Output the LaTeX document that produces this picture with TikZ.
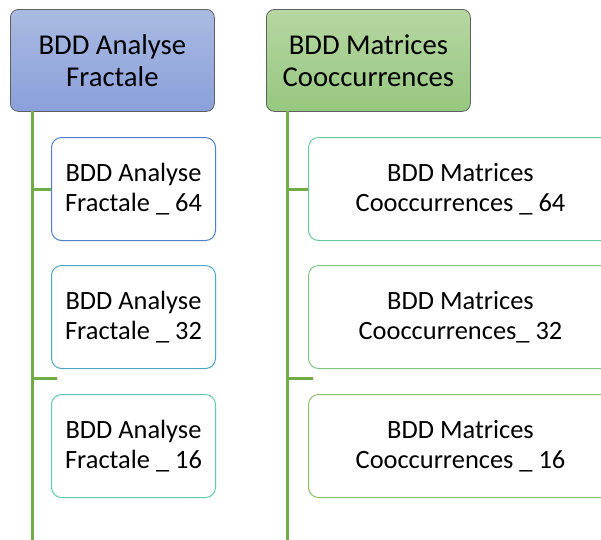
\documentclass[tikz,border=0pt]{standalone}
\usepackage{fontspec}
\setmainfont{Carlito}
\definecolor{spine}{HTML}{70AD47}
\definecolor{topborder}{HTML}{5F5F5F}
\definecolor{lb1}{HTML}{4E7FCB}
\definecolor{lb2}{HTML}{4CA7C4}
\definecolor{lb3}{HTML}{5EC8B2}
\definecolor{rb1}{HTML}{6DC89C}
\definecolor{rb2}{HTML}{7CC784}
\definecolor{rb3}{HTML}{8BC066}
\tikzset{
  topbox/.style={draw=topborder, line width=0.8pt, rounded corners=8pt, anchor=north west,
    minimum width=204pt, minimum height=102pt, align=center, inner sep=0pt,
    font=\fontsize{28.7}{32}\selectfont},
  childbox/.style={draw, line width=1pt, rounded corners=10pt, anchor=north west, fill=white,
    minimum height=103pt, align=center, inner sep=0pt,
    font=\fontsize{26.4}{30}\selectfont,
    execute at begin node={\rule{0pt}{24pt}}},
  conn/.style={draw=spine, line width=3pt}
}
\begin{document}
\begin{tikzpicture}[x=1pt,y=1pt]
\clip (0,0) rectangle (601,-539);
\fill[white] (0,0) rectangle (601,-539);
% top boxes
\node[topbox, top color={rgb,255:red,170;green,186;blue,226}, bottom color={rgb,255:red,138;green,160;blue,218}] (tl) at (10,-9) {BDD Analyse\\Fractale};
\node[topbox, top color={rgb,255:red,182;green,215;blue,162}, bottom color={rgb,255:red,150;green,199;blue,128}] (tr) at (266,-9) {BDD Matrices\\Cooccurrences};
% left children
\node[childbox, draw=lb1, minimum width=164pt] (l1) at (51,-137) {BDD Analyse\\Fractale \_ 64};
\node[childbox, draw=lb2, minimum width=164pt] (l2) at (51,-265) {BDD Analyse\\Fractale \_ 32};
\node[childbox, draw=lb3, minimum width=164pt] (l3) at (51,-394) {BDD Analyse\\Fractale \_ 16};
% right children
\node[childbox, draw=rb1, minimum width=304pt] (r1) at (308,-137) {BDD Matrices\\Cooccurrences \_ 64};
\node[childbox, draw=rb2, minimum width=304pt] (r2) at (308,-265) {BDD Matrices\\Cooccurrences\_ 32};
\node[childbox, draw=rb3, minimum width=304pt] (r3) at (308,-394) {BDD Matrices\\Cooccurrences \_ 16};
% spines
\coordinate (ls) at (32,-111);
\coordinate (le) at (32,-540);
\coordinate (rs) at (287,-111);
\coordinate (re) at (287,-540);
\coordinate (lstub) at (57,-378);
\coordinate (rstub) at (313,-378);
\draw[conn] (ls) -- (le);
\draw[conn] (rs) -- (re);
\draw[conn] (l1.west -| ls) -- (l1.west);
\draw[conn] (r1.west -| rs) -- (r1.west);
\draw[conn] (lstub -| ls) -- (lstub);
\draw[conn] (rstub -| rs) -- (rstub);
\end{tikzpicture}
\end{document}
